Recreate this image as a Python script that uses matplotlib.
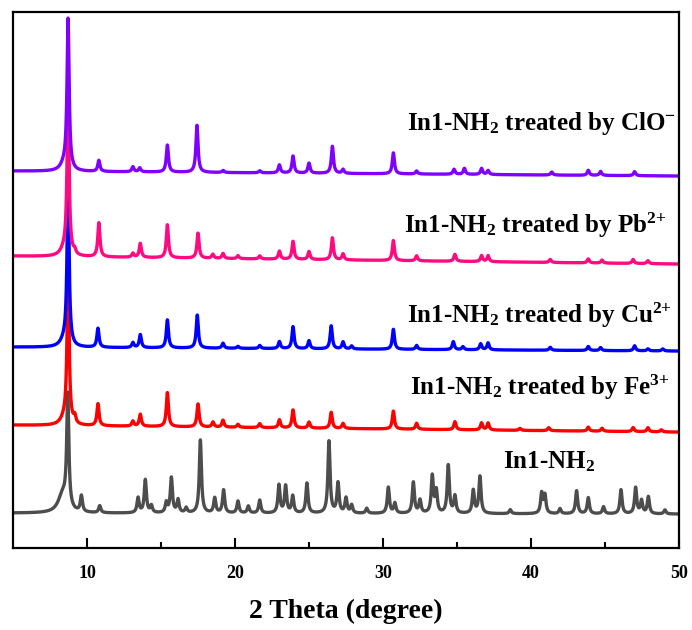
#!/usr/bin/env python3
"""Stacked PXRD patterns of In1-NH2 before and after ion treatment."""

import numpy as np
import matplotlib
matplotlib.use("Agg")
import matplotlib.pyplot as plt

# peak lists: (2theta, height) or (2theta, height, hwhm)
peaks_pristine = [
    (8.7, 112), (8.35, 18, 0.35), (9.62, 16), (10.86, 7), (13.45, 15), (13.94, 33),
    (14.35, 7), (15.36, 10), (15.7, 35), (16.15, 13), (16.7, 5), (17.66, 73),
    (18.63, 15), (19.23, 23), (20.2, 12), (20.9, 7), (21.67, 13), (22.97, 28),
    (23.42, 27), (23.9, 17), (24.86, 30), (26.35, 72), (26.96, 30), (27.5, 15),
    (27.88, 8), (28.9, 5), (30.36, 26), (30.8, 10), (32.05, 31), (32.5, 13),
    (33.33, 37), (33.6, 22), (34.41, 48), (34.86, 17), (36.1, 23), (36.55, 37),
    (38.6, 4), (40.72, 20), (40.94, 18), (41.96, 5), (43.08, 23), (43.87, 16),
    (44.9, 7), (46.08, 24), (47.07, 26), (47.47, 13), (47.93, 17), (49.05, 4),
]
peaks_fe = [
    (8.72, 150), (8.45, 6, 0.3), (9.17, 7), (10.74, 22), (13.1, 5), (13.6, 12),
    (15.43, 34), (17.5, 23), (18.51, 5), (19.19, 7), (20.2, 3), (21.67, 4),
    (23.0, 8), (23.92, 18), (25.0, 6), (26.5, 16), (27.3, 5), (30.7, 18),
    (32.27, 6), (34.86, 8), (36.66, 7), (37.1, 7), (39.25, 2), (41.2, 3),
    (43.87, 4), (44.8, 3), (46.9, 4), (47.9, 4), (48.8, 2),
]
peaks_cu = [
    (8.72, 160), (8.45, 6, 0.3), (10.74, 19), (13.1, 5), (13.6, 13), (15.43, 28),
    (17.45, 33), (19.19, 5), (20.2, 2), (21.67, 3), (23.0, 7), (23.92, 22),
    (25.0, 8), (26.5, 23), (27.3, 7), (27.88, 3), (30.7, 20), (32.27, 4),
    (34.75, 8), (35.4, 3), (36.6, 6), (37.1, 7), (41.3, 3), (43.87, 4),
    (44.7, 3), (47.0, 5), (47.9, 2), (48.9, 2),
]
peaks_pb = [
    (8.72, 155), (8.45, 6, 0.3), (9.17, 4), (10.8, 34), (13.1, 4), (13.6, 14),
    (15.43, 33), (17.5, 25), (18.5, 4), (19.19, 5), (20.2, 3), (21.67, 3),
    (23.0, 8), (23.92, 18), (25.0, 8), (26.58, 22), (27.3, 6), (30.7, 20),
    (32.27, 5), (34.86, 7), (36.66, 6), (37.1, 6), (41.3, 3), (43.87, 4),
    (44.8, 3), (46.9, 4), (47.9, 3),
]
peaks_clo = [
    (8.72, 150), (8.45, 6, 0.3), (10.8, 11), (13.1, 5), (13.56, 4), (15.43, 27),
    (17.43, 47), (19.2, 2), (21.67, 2), (23.0, 8), (23.92, 17), (25.0, 10),
    (26.58, 27), (27.3, 4), (30.7, 21), (32.27, 3), (34.8, 5), (35.5, 6),
    (36.66, 6), (37.1, 4), (41.4, 3), (43.87, 5), (44.7, 4), (47.0, 4),
]

# baseline level at 2theta = 5 and 2theta = 50 (stack offsets)
base_left = [35, 123, 201, 292, 377]
base_right = [34, 116, 197, 284, 372]

patterns = [peaks_pristine, peaks_fe, peaks_cu, peaks_pb, peaks_clo]
colors = ['#4d4d4d', '#ff0000', '#0000ff', '#ff0a80', '#8000ff']
labels = [
    r'In1-NH$_{2}$',
    r'In1-NH$_{2}$ treated by Fe$^{3{+}}$',
    r'In1-NH$_{2}$ treated by Cu$^{2{+}}$',
    r'In1-NH$_{2}$ treated by Pb$^{2{+}}$',
    r'In1-NH$_{2}$ treated by ClO$^{-}$',
]
label_x = [38.1, 31.8, 31.6, 31.4, 31.6]
label_y = [80, 153, 225, 315, 418]

plt.rcParams['font.family'] = 'Liberation Serif'
plt.rcParams['font.weight'] = 'bold'
plt.rcParams['mathtext.fontset'] = 'custom'
plt.rcParams['mathtext.rm'] = 'Liberation Serif:bold'
plt.rcParams['mathtext.bf'] = 'Liberation Serif:bold'
plt.rcParams['mathtext.it'] = 'Liberation Serif:bold'


def profile(x, peaks, default_w=0.085):
    """Sum of Lorentzian peaks."""
    y = np.zeros_like(x)
    for p in peaks:
        pos, h = p[0], p[1]
        w = p[2] if len(p) > 2 else default_w
        y += h / (1 + ((x - pos) / w) ** 2)
    return y


fig = plt.figure(figsize=(6.92, 6.30), dpi=100)
ax = fig.add_axes([0.0188, 0.130, 0.9624, 0.851])

tt = np.linspace(5, 50, 4501)
for peaks, b0, b1, c in zip(patterns, base_left, base_right, colors):
    base = b0 + (b1 - b0) * (tt - 5) / 45
    ax.plot(tt, base + profile(tt, peaks), color=c, lw=2.4)

for txt, lx, ly in zip(labels, label_x, label_y):
    ax.text(lx, ly, txt, fontsize=18, fontweight='bold', ha='left', va='baseline')

ax.set_xlim(5, 50)
ax.set_ylim(0, 536)
ax.set_yticks([])
ax.set_xticks([10, 20, 30, 40, 50])
ax.set_xticks([15, 25, 35, 45], minor=True)
ax.tick_params(axis='x', which='major', direction='in', length=7, width=1.5,
               labelsize=13, pad=12)
ax.tick_params(axis='x', which='minor', direction='in', length=4, width=1.5)
for lab in ax.get_xticklabels():
    lab.set_fontweight('bold')
for s in ax.spines.values():
    s.set_linewidth(1.6)

ax.set_xlabel('2 Theta (degree)', fontsize=20, fontweight='bold', labelpad=12)

fig.savefig('out.png', dpi=100, facecolor='white')
